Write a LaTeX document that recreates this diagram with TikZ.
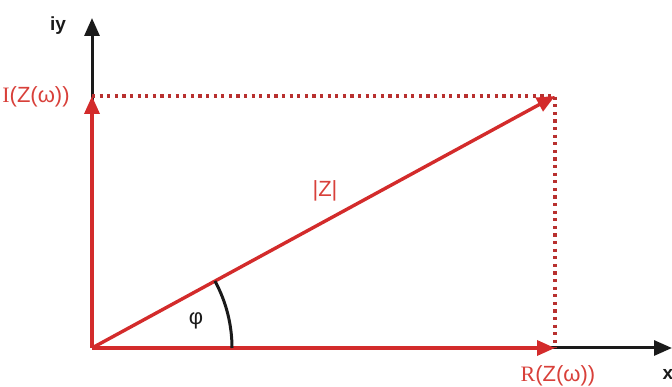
\documentclass[tikz,border=0pt]{standalone}
\usepackage{fontspec}
\setmainfont{Liberation Sans}
\newfontfamily\partfont{Liberation Serif}
\usetikzlibrary{
  arrows.meta,
  positioning,
  calc
}
\definecolor{phRed}{HTML}{D32B2B}
\definecolor{phLabel}{HTML}{D8403A}
\definecolor{phDot}{HTML}{B8302F}
\definecolor{phAxis}{HTML}{1A1A1A}
\tikzset{
  axisline/.style={-{Triangle[length=18pt,width=15pt]}, line width=3pt, phAxis},
  phasor/.style={-{Triangle[length=18pt,width=15pt]}, line width=3.4pt, phRed},
  guide/.style={line width=3.2pt, phDot, dash pattern=on 3.2pt off 4.4pt},
  anglearc/.style={line width=3pt, phAxis},
  axislabel/.style={font=\fontsize{19}{19}\selectfont\bfseries, text=phAxis, inner sep=1pt},
  partlabel/.style={font=\fontsize{22}{22}\selectfont, text=phLabel, inner sep=1pt}
}

\begin{document}
\begin{tikzpicture}[x=1pt, y=1pt]
  \useasboundingbox (0,0) rectangle (672,387);
  % points of the plane
  \coordinate (orig) at (92,39);
  \coordinate (imag) at (92,291);
  \coordinate (real) at (555,39);
  \coordinate (zpt) at (555,291);
  \coordinate (ytop) at (92,369);
  \coordinate (xend) at (672,39);
  % axes
  \draw[axisline] (orig) -- (ytop);
  \draw[axisline] (orig) -- (xend);
  % projections
  \draw[guide] (imag) -- (zpt) -- (real);
  % phasor and its parts
  \draw[phasor] (orig) -- (imag);
  \draw[phasor] (orig) -- (real);
  \draw[phasor] (orig) -- (zpt);
  \draw[anglearc] ($(orig)+(140,0)$) arc[start angle=0, end angle=28.6, radius=140];
  % labels
  \node[axislabel] (ylab) at (58,361) {iy};
  \node[axislabel] (xlab) at (668,13) {x};
  \node[partlabel] (imlab) at (36,290) {{\partfont I}(Z(ω))};
  \node[partlabel] (relab) at (558,11) {{\partfont R}(Z(ω))};
  \node[partlabel] (modlab) at (325,196) {|Z|};
  \node[partlabel, text=phAxis] (philab) at (196,66) {φ};
\end{tikzpicture}
\end{document}
